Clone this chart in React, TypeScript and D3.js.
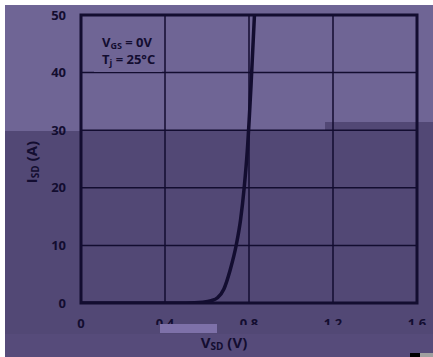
import React from 'react';
import * as d3 from 'd3';

// forward diode curve
const vsd = [0, 0.3, 0.5, 0.58, 0.62, 0.65, 0.68, 0.71, 0.74, 0.76, 0.777, 0.792, 0.81, 0.826];
const isd = [0, 0, 0.02, 0.15, 0.4, 0.9, 2.4, 5.7, 10.2, 14.5, 20, 26.5, 38, 50];
const xTicks = [0, 0.4, 0.8, 1.2, 1.6];
const yTicks = [0, 10, 20, 30, 40, 50];

const W = 433;
const H = 357;
const ink = '#130d30';
const font = '"Open Sans", "Liberation Sans", sans-serif';

export default function App() {
  const x = d3.scaleLinear().domain([0, 1.6]).range([81, 417]);
  const y = d3.scaleLinear().domain([0, 50]).range([303, 15]);

  const line = d3.line<number>()
    .x((_, i) => x(vsd[i]))
    .y(d => y(d))
    .curve(d3.curveMonotoneX);

  return (
    <svg width={W} height={H} style={{ position: 'absolute', left: 0, top: 0 }} fontFamily={font}>
      {/* background: lighter top, darker bottom */}
      <rect x={0} y={0} width={W} height={H} fill="#6f6595" />
      <rect x={0} y={131} width={325} height={H - 131} fill="#524875" />
      <rect x={325} y={122} width={W - 325} height={H - 122} fill="#524875" />
      <rect x={0} y={334} width={W} height={H - 334} fill="#564b7a" />

      <defs>
        <clipPath id="plot">
          <rect x={x(0)} y={y(50)} width={x(1.6) - x(0)} height={y(0) - y(50)} />
        </clipPath>
      </defs>

      {/* grid */}
      {yTicks.slice(1, -1).map(t => (
        <line key={'gy' + t} x1={x(0)} x2={x(1.6)} y1={y(t)} y2={y(t)} stroke={ink} strokeWidth={1.5} />
      ))}
      {xTicks.slice(1, -1).map(t => (
        <line key={'gx' + t} x1={x(t)} x2={x(t)} y1={y(50)} y2={y(0)} stroke={ink} strokeWidth={1.5} />
      ))}

      {/* legend box hides the grid behind it */}
      <rect x={94} y={30} width={68} height={42} fill="#6f6595" />
      <text x={102} y={47} fontSize={13} fontWeight={700} fill={ink}>
        V<tspan fontSize={9} dy={1.5}>GS</tspan><tspan dy={-1.5}> = 0V</tspan>
      </text>
      <text x={102} y={64} fontSize={13} fontWeight={700} fill={ink}>
        T<tspan fontSize={9} dy={1.5}>j</tspan><tspan dy={-1.5}> = 25°C</tspan>
      </text>

      {/* curve */}
      <path d={line(isd) ?? ''} fill="none" stroke={ink} strokeWidth={3.5} clipPath="url(#plot)" />

      {/* frame */}
      <rect x={x(0)} y={y(50)} width={x(1.6) - x(0)} height={y(0) - y(50)} fill="none" stroke={ink} strokeWidth={3} />

      {/* y tick labels */}
      {yTicks.map(t => (
        <text key={'ty' + t} x={66} y={y(t) + 4.5} textAnchor="end" fontSize={13} fontWeight={700} fill={ink}>
          {t}
        </text>
      ))}

      {/* x tick labels */}
      {xTicks.map(t => (
        <text key={'tx' + t} x={x(t)} y={327.5} textAnchor="middle" fontSize={13} fontWeight={700} fill={ink}>
          {t === 0 ? '0' : t.toFixed(1)}
        </text>
      ))}
      {/* lower halves of the x labels are lost in the picture */}
      <rect x={90} y={325} width={W - 90} height={9} fill="#524875" />
      <rect x={160} y={324} width={57} height={9} fill="#7e71a9" />

      {/* axis titles */}
      <text transform="translate(37,162) rotate(-90)" textAnchor="middle" fontSize={15} fontWeight={700} fill={ink}>
        I<tspan fontSize={10} dy={2}>SD</tspan><tspan dy={-2}> (A)</tspan>
      </text>
      <text x={224} y={348} textAnchor="middle" fontSize={15} fontWeight={700} fill={ink}>
        V<tspan fontSize={10} dy={2}>SD</tspan><tspan dy={-2}> (V)</tspan>
      </text>

      {/* white edges of the picture */}
      <rect x={0} y={0} width={W} height={5} fill="#ffffff" />
      <rect x={0} y={0} width={5} height={H} fill="#ffffff" />
      <rect x={410} y={353} width={10} height={4} fill="#000000" />
      <rect x={420} y={353} width={13} height={4} fill="#a0a0a0" />
    </svg>
  );
}
